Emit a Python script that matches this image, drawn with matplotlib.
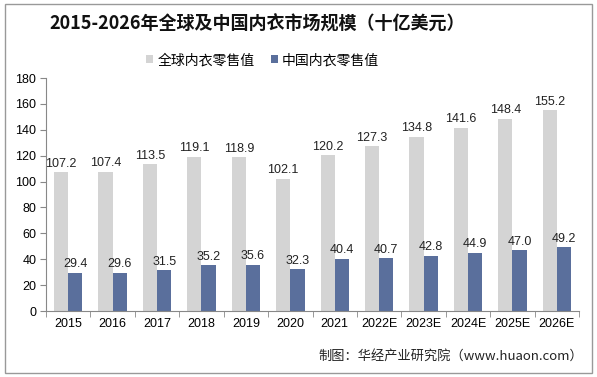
import matplotlib
matplotlib.use("Agg")
import matplotlib.pyplot as plt
import numpy as np
from matplotlib.patches import Rectangle

plt.rcParams['font.family'] = ['Liberation Sans', 'Noto Sans CJK SC', 'DejaVu Sans']

years = ['2015', '2016', '2017', '2018', '2019', '2020', '2021', '2022E', '2023E', '2024E', '2025E', '2026E']
global_vals = [107.2, 107.4, 113.5, 119.1, 118.9, 102.1, 120.2, 127.3, 134.8, 141.6, 148.4, 155.2]
china_vals = [29.4, 29.6, 31.5, 35.2, 35.6, 32.3, 40.4, 40.7, 42.8, 44.9, 47.0, 49.2]
series_names = ['全球内衣零售值', '中国内衣零售值']
title = '2015-2026年全球及中国内衣市场规模（十亿美元）'
source = '制图：华经产业研究院（www.huaon.com）'

fig = plt.figure(figsize=(5.97, 3.77), dpi=100)
ax = fig.add_axes([0.077, 0.175, 0.893, 0.618])

x = np.arange(len(years))
w = 0.32
c1 = '#d4d4d4'
c2 = '#5a6f9c'
b1 = ax.bar(x - w/2, global_vals, w, color=c1, label=series_names[0])
b2 = ax.bar(x + w/2, china_vals, w, color=c2, label=series_names[1])

for xi, v in zip(x, global_vals):
    ax.text(xi - w/2, v + 2, f'{v:.1f}', ha='center', va='bottom', fontsize=9, color='#222222')
for xi, v in zip(x, china_vals):
    ax.text(xi + w/2, v + 2, f'{v:.1f}', ha='center', va='bottom', fontsize=9, color='#222222')

ax.set_xlim(-0.5, len(years) - 0.5)
ax.set_ylim(0, 180)
ax.set_yticks(range(0, 181, 20))
ax.set_xticks(x)
ax.set_xticklabels(years, fontsize=9)
ax.set_xticks(np.arange(-0.5, len(years), 1), minor=True)
ax.tick_params(axis='x', which='major', length=0, pad=5)
ax.tick_params(axis='x', which='minor', length=4, color='#888888', direction='out')
ax.tick_params(axis='y', length=4, color='#888888', labelsize=9, pad=3)
for s in ['top', 'right']:
    ax.spines[s].set_visible(False)
for s in ['left', 'bottom']:
    ax.spines[s].set_color('#888888')
    ax.spines[s].set_linewidth(0.8)

fig.text(0.43, 0.935, title, ha='center', va='center', fontsize=13, fontweight='bold',
         family=['Noto Sans CJK SC', 'DejaVu Sans'], color='#111111')
leg = fig.legend(handles=[b1, b2], labels=series_names, loc='center', bbox_to_anchor=(0.44, 0.84),
                 ncol=2, frameon=False, fontsize=10, handlelength=0.5, handleheight=0.5,
                 handletextpad=0.3, columnspacing=1.2, prop={'family': ['Noto Sans CJK SC'], 'size': 10})
fig.text(0.977, 0.055, source, ha='right', va='center', fontsize=9.5,
         family=['Noto Sans CJK SC', 'DejaVu Sans'], color='#222222')

fig.patches.append(Rectangle((0.008, 0.01), 0.984, 0.98, transform=fig.transFigure,
                             fill=False, edgecolor='#999999', linewidth=1))

fig.savefig('out.png', dpi=100)
